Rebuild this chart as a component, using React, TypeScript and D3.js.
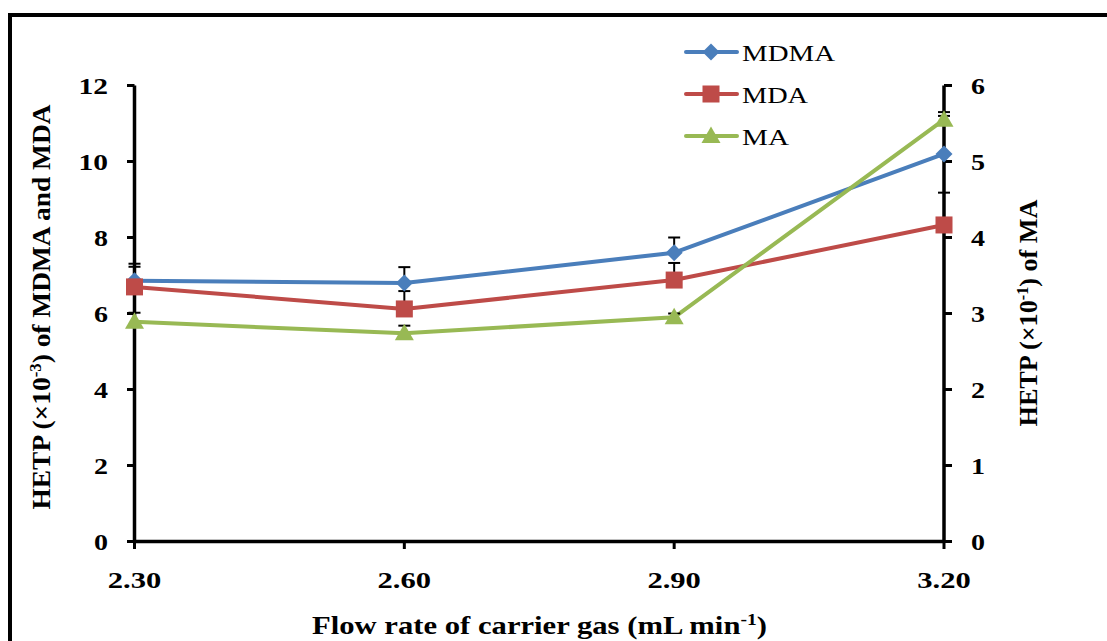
import React from "react";
import * as d3 from "d3";

// Flow rates (mL/min) and HETP measurements
const flowRates = ["2.30", "2.60", "2.90", "3.20"];
const mdmaValues = [6.86, 6.8, 7.6, 10.2];
const mdmaErrors = [0.45, 0.42, 0.4, 1.0];
const mdaValues = [6.7, 6.12, 6.88, 8.33];
const mdaErrors = [0.53, 0.47, 0.45, 0.85];
const maValues = [2.89, 2.74, 2.95, 5.55];
const maErrors = [0.12, 0.1, 0.05, 0.1];
const leftTicks = [0, 2, 4, 6, 8, 10, 12];
const rightTicks = [0, 1, 2, 3, 4, 5, 6];

const W = 1107;
const H = 641;
const FONT = "Liberation Serif, DejaVu Serif, serif";

// wide label text
const labelLen = (s: string) => {
  let w = 0;
  for (const c of s) w += c === "." ? 7 : 14;
  return w + (s.length - 1) * 1.5;
};

export default function App() {
  const x = d3.scaleLinear().domain([2.3, 3.2]).range([134.5, 944]);
  const yL = d3.scaleLinear().domain([0, 12]).range([541.5, 85.5]);
  const yR = d3.scaleLinear().domain([0, 6]).range([541.5, 85.5]);
  const xs = flowRates.map((f) => +f);

  const line = (vals: number[], y: d3.ScaleLinear<number, number>) =>
    d3.line<number>().x((_, i) => x(xs[i])).y((v) => y(v))(vals) || "";

  const series = [
    { name: "MDMA", vals: mdmaValues, errs: mdmaErrors, y: yL, color: "#4A7EBB", shape: "diamond", len: 93 },
    { name: "MDA", vals: mdaValues, errs: mdaErrors, y: yL, color: "#BE4B48", shape: "square", len: 66 },
    { name: "MA", vals: maValues, errs: maErrors, y: yR, color: "#98B954", shape: "triangle", len: 47 },
  ];

  const marker = (shape: string, cx: number, cy: number, color: string, key: string) => {
    if (shape === "diamond") {
      const s = 8.5;
      return <path key={key} d={`M${cx},${cy - s}L${cx + s},${cy}L${cx},${cy + s}L${cx - s},${cy}Z`} fill={color} />;
    }
    if (shape === "square") {
      const s = 8.5;
      return <rect key={key} x={cx - s} y={cy - s} width={2 * s} height={2 * s} fill={color} />;
    }
    const s = 9.5;
    return <path key={key} d={`M${cx},${cy - s}L${cx + s},${cy + 7}L${cx - s},${cy + 7}Z`} fill={color} />;
  };

  const legendY = [52, 94, 136];
  const tx = { fontFamily: FONT };
  const SG = "spacingAndGlyphs";

  return (
    <svg width={W} height={H} style={{ position: "absolute", left: 0, top: 0, background: "#fff", fontFamily: FONT }}>
      {/* outer frame */}
      <rect x={10} y={15} width={1200} height={700} fill="none" stroke="#000" strokeWidth={4} />

      {/* series lines */}
      {series.map((s) => (
        <path key={s.name} d={line(s.vals, s.y)} fill="none" stroke={s.color} strokeWidth={4} strokeLinejoin="round" />
      ))}

      {/* axes */}
      <line x1={134.5} x2={134.5} y1={yL(12)} y2={yL(0) + 1.5} stroke="#000" strokeWidth={3.5} />
      <line x1={944} x2={944} y1={yR(6)} y2={yR(0) + 1.5} stroke="#000" strokeWidth={3.5} />
      <line x1={134.5} x2={944} y1={541.5} y2={541.5} stroke="#000" strokeWidth={3.5} />
      {leftTicks.map((t) => (
        <g key={"l" + t}>
          <line x1={127} x2={134.5} y1={yL(t)} y2={yL(t)} stroke="#000" strokeWidth={3} />
          <text x={108 - labelLen(String(t))} y={yL(t) + 8} fontSize={23} fontWeight="bold" style={tx}
            textLength={labelLen(String(t))} lengthAdjust={SG}>{t}</text>
        </g>
      ))}
      {rightTicks.map((t) => (
        <g key={"r" + t}>
          <line x1={944} x2={952} y1={yR(t)} y2={yR(t)} stroke="#000" strokeWidth={3} />
          <text x={971} y={yR(t) + 8} fontSize={23} fontWeight="bold" style={tx}
            textLength={labelLen(String(t))} lengthAdjust={SG}>{t}</text>
        </g>
      ))}
      {flowRates.map((f) => (
        <g key={"x" + f}>
          <line x1={x(+f)} x2={x(+f)} y1={541.5} y2={549} stroke="#000" strokeWidth={3} />
          <text x={x(+f) - labelLen(f) / 2} y={588} fontSize={23} fontWeight="bold" style={tx}
            textLength={labelLen(f)} lengthAdjust={SG}>{f}</text>
        </g>
      ))}

      {/* upward error bars */}
      {series.map((s) =>
        s.vals.map((v, i) => {
          const cx = x(xs[i]);
          const top = s.y(v + s.errs[i]);
          return (
            <g key={s.name + "e" + i}>
              <line x1={cx} x2={cx} y1={s.y(v)} y2={top} stroke="#000" strokeWidth={2} />
              <line x1={cx - 6} x2={cx + 6} y1={top} y2={top} stroke="#000" strokeWidth={2} />
            </g>
          );
        })
      )}

      {/* markers */}
      {series.map((s) => s.vals.map((v, i) => marker(s.shape, x(xs[i]), s.y(v), s.color, s.name + "m" + i)))}

      {/* legend */}
      {series.map((s, i) => (
        <g key={"lg" + s.name}>
          <line x1={686} x2={737} y1={legendY[i]} y2={legendY[i]} stroke={s.color} strokeWidth={4} strokeLinecap="round" />
          {marker(s.shape, 711, legendY[i], s.color, "lgm" + i)}
          <text x={742} y={legendY[i] + 8.5} fontSize={24} style={tx} textLength={s.len} lengthAdjust={SG}>{s.name}</text>
        </g>
      ))}

      {/* axis titles */}
      <text x={312} y={634} fontSize={25} fontWeight="bold" style={tx} textLength={455} lengthAdjust={SG}>
        Flow rate of carrier gas (mL min<tspan dy={-9} fontSize={16}>-1</tspan><tspan dy={9}>)</tspan>
      </text>
      <text transform="translate(50,307) rotate(-90)" textAnchor="middle" fontSize={26} fontWeight="bold" style={tx}
        textLength={405} lengthAdjust={SG}>
        HETP (×10<tspan dy={-9} fontSize={16}>-3</tspan><tspan dy={9}>) of MDMA and MDA</tspan>
      </text>
      <text transform="translate(1037,313) rotate(-90)" textAnchor="middle" fontSize={26} fontWeight="bold" style={tx}
        textLength={227} lengthAdjust={SG}>
        HETP (×10<tspan dy={-9} fontSize={16}>-1</tspan><tspan dy={9}>) of MA</tspan>
      </text>
    </svg>
  );
}
